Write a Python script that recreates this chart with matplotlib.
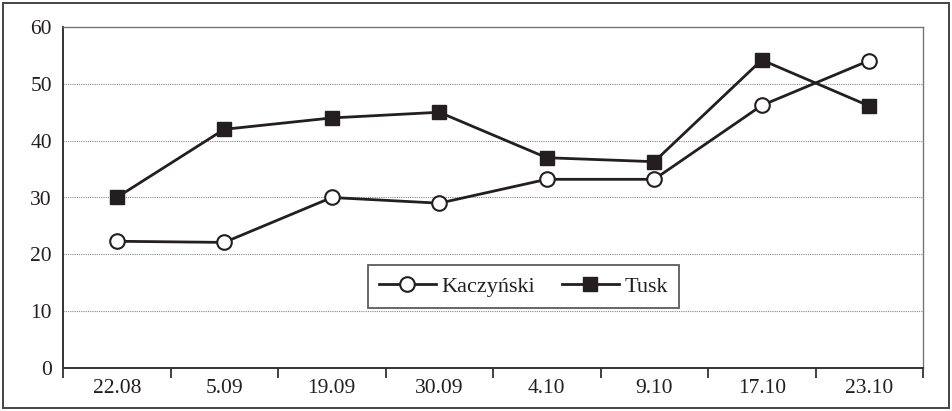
import matplotlib
matplotlib.use("Agg")
import matplotlib.pyplot as plt
from matplotlib.patches import Rectangle
from matplotlib.ticker import FixedLocator

categories = ["22.08", "5.09", "19.09", "30.09", "4.10", "9.10", "17.10", "23.10"]
kaczynski = [22.3, 22.1, 30.0, 29.0, 33.2, 33.2, 46.2, 54.1]
tusk = [30.0, 42.0, 44.0, 45.0, 37.0, 36.3, 54.2, 46.1]
y_ticks = [0, 10, 20, 30, 40, 50, 60]

plt.rcParams["font.family"] = ["Liberation Serif", "DejaVu Serif"]

fig = plt.figure(figsize=(9.52, 4.11), dpi=100)
ax = fig.add_axes([63 / 952, 1 - 368 / 411, (923 - 63) / 952, (368 - 27) / 411])

# outer frame around the whole figure
fig.patches.append(Rectangle((3 / 952, 3 / 411), 946 / 952, 405 / 411,
                             transform=fig.transFigure, fill=False,
                             edgecolor="#444444", linewidth=1.4))

x = list(range(len(categories)))
ax.plot(x, kaczynski, color="#231f20", linewidth=2.0, marker="o", markersize=10.5,
        markerfacecolor="white", markeredgecolor="#231f20", markeredgewidth=1.5,
        label="Kaczyński", zorder=3)
ax.plot(x, tusk, color="#231f20", linewidth=2.0, marker="s", markersize=10,
        markerfacecolor="#231f20", markeredgecolor="#231f20",
        label="Tusk", zorder=3)

ax.set_xlim(-0.5, len(categories) - 0.5)
ax.set_ylim(0, 60)
ax.set_yticks(y_ticks)
ax.set_xticks(x)
ax.set_xticklabels(categories)
ax.xaxis.set_minor_locator(FixedLocator([i - 0.5 for i in range(len(categories) + 1)]))
ax.tick_params(axis="x", which="major", length=0, pad=8, labelsize=15.5, colors="#231f20")
ax.tick_params(axis="x", which="minor", length=7, width=1.3, direction="out", color="#333333")
ax.tick_params(axis="y", length=0, pad=8, labelsize=15.5, colors="#231f20")

for v in y_ticks[1:-1]:
    ax.axhline(v, color="#888888", linewidth=0.8, linestyle=(0, (1, 1)), zorder=1)

ax.spines["left"].set_color("#333333")
ax.spines["left"].set_linewidth(1.4)
ax.spines["bottom"].set_color("#333333")
ax.spines["bottom"].set_linewidth(1.4)
ax.spines["top"].set_color("#777777")
ax.spines["top"].set_linewidth(1.0)
ax.spines["right"].set_color("#777777")
ax.spines["right"].set_linewidth(1.0)

leg = ax.legend(loc="center", bbox_to_anchor=(((366 + 681) / 2 - 63) / 860,
                                              (368 - (265 + 308) / 2) / 341),
                ncol=2, frameon=True, fancybox=False, fontsize=16,
                handlelength=2.55, columnspacing=1.2, handletextpad=0.27,
                borderpad=0.5, edgecolor="#333333")
leg.get_frame().set_linewidth(1.3)
for t in leg.get_texts():
    t.set_color("#231f20")

fig.savefig("out.png", dpi=100)
